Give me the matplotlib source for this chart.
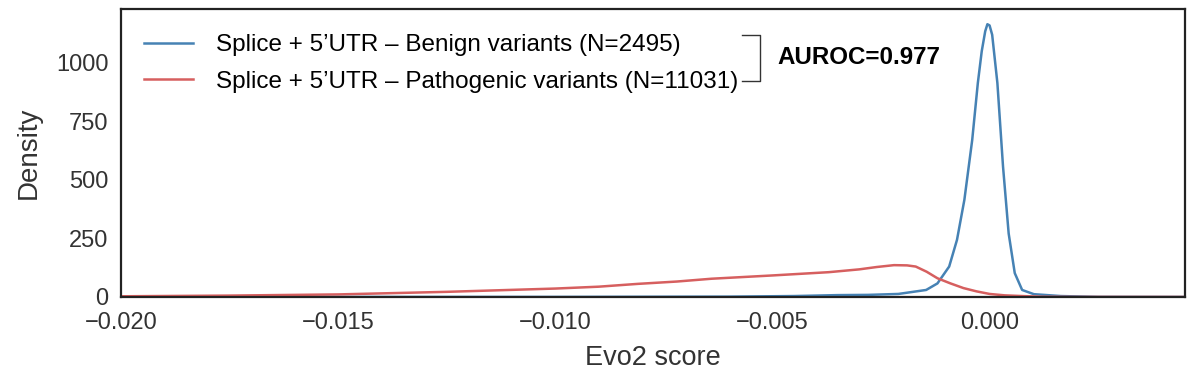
import matplotlib.pyplot as plt
import numpy as np

plt.rcParams['font.family'] = ['Liberation Sans', 'DejaVu Sans']

# KDE curves (Evo2 score vs density)
benign_x = [-0.0200, -0.0100, -0.0060, -0.0045, -0.0035, -0.0028, -0.0021, -0.00146,
            -0.0012, -0.00093, -0.00075, -0.00058, -0.0004, -0.00027, -0.00018,
            -0.0001, -0.00005, 0.0, 0.00006, 0.00018, 0.00031, 0.00044, 0.00058,
            0.00075, 0.00102, 0.00164, 0.0025, 0.0045]
benign_y = [0, 0.3, 1.5, 4, 8, 9, 13, 30,
            58, 130, 244, 415, 670, 914, 1050,
            1135, 1165, 1160, 1120, 914, 557, 271, 102,
            30, 12, 4, 0.5, 0]

path_x = [-0.0200, -0.0175, -0.0150, -0.0125, -0.0100, -0.0090, -0.0081, -0.0072,
          -0.0064, -0.0050, -0.0037, -0.0030, -0.0026, -0.0022, -0.0019, -0.0017,
          -0.00145, -0.0012, -0.0009, -0.0006, -0.0003, 0.0000, 0.00035, 0.00075,
          0.0012, 0.0020, 0.0045]
path_y = [3, 6, 11, 22, 36, 44, 56, 66,
          78, 92, 106, 118, 128, 136, 135, 130,
          108, 80, 58, 38, 24, 13, 7, 4,
          1, 0.3, 0]

labels = ["Splice + 5\u2019UTR \u2013 Benign variants (N=2495)",
          "Splice + 5\u2019UTR \u2013 Pathogenic variants (N=11031)"]
auroc = 0.977

fig = plt.figure(figsize=(12, 3.85), dpi=100)
ax = fig.add_axes([0.1008, 0.2286, 0.8867, 0.748])

ax.plot(benign_x, benign_y, color='#4682b4', lw=1.8, label=labels[0])
ax.plot(path_x, path_y, color='#d65f5f', lw=1.8, label=labels[1])

ax.set_xlim(-0.020, 0.0045)
ax.set_ylim(0, 1230)
ax.set_xticks([-0.020, -0.015, -0.010, -0.005, 0.000])
ax.set_yticks([0, 250, 500, 750, 1000])
ax.xaxis.set_major_formatter(plt.FuncFormatter(lambda v, p: f"{v:.3f}".replace('-', '\u2212')))
ax.tick_params(length=0, labelsize=17, colors='#333333')
ax.tick_params(axis='x', pad=11)
ax.tick_params(axis='y', pad=9)
for s in ax.spines.values():
    s.set_linewidth(1.6)
    s.set_color('#222222')

ax.set_xlabel("Evo2 score", fontsize=19.5, color='#333333', labelpad=8)
ax.set_ylabel("Density", fontsize=20, color='#333333', labelpad=10)

ax.legend(loc='upper left', bbox_to_anchor=(0.022, 0.912), frameon=False,
          fontsize=17.5, handlelength=2.0, handletextpad=0.95, labelspacing=0.6,
          borderaxespad=0, borderpad=0)

# bracket joining the two legend entries
ax.plot([0.5837, 0.6006, 0.6006, 0.5837], [0.9097, 0.9097, 0.75, 0.75],
        transform=ax.transAxes, color='#333333', lw=1.0, clip_on=False)
ax.text(0.6165, 0.833, f"AUROC={auroc:.3f}", transform=ax.transAxes,
        fontsize=17.4, fontweight='bold', va='center', ha='left')

fig.savefig('out.png', dpi=100)
